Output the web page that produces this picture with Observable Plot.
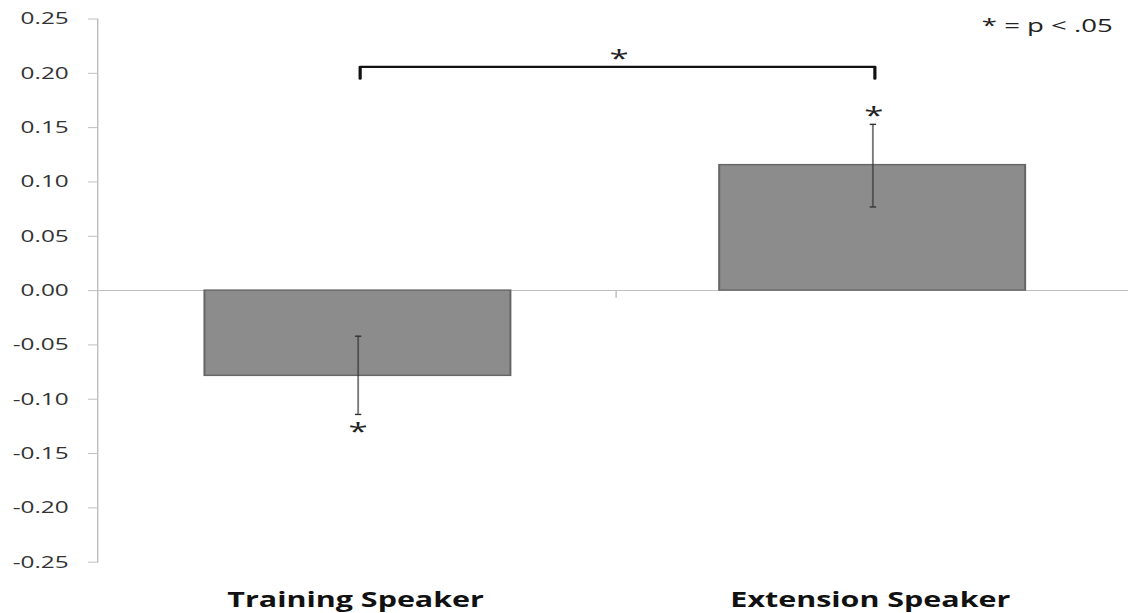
<!DOCTYPE html>
<html><head><meta charset="utf-8">
<script src="https://cdn.jsdelivr.net/npm/d3@7"></script>
<script src="https://cdn.jsdelivr.net/npm/@observablehq/plot@0.6"></script>
<style>
body{margin:0;background:#fff;overflow:hidden}
#chart{width:1128px;height:613px;overflow:hidden}
#chart svg{transform:scaleX(1.45);transform-origin:0 0;display:block}
</style></head><body><div id="chart"></div>
<script>
const categories = ["Training Speaker", "Extension Speaker"];
const means = [-0.0785, 0.1155];
const errLow = [-0.114, 0.077];
const errHigh = [-0.042, 0.153];
const sigMarks = ["*", "*"];
const yTicks = [0.25, 0.20, 0.15, 0.10, 0.05, 0, -0.05, -0.10, -0.15, -0.20, -0.25];
const bracketTop = 0.206;
const bracketFoot = 0.195;
const bracketLabel = "*";
const legendText = "* = p < .05";

const S = 1.45;
const W = 1128 / S;
const mL = 97 / S;
const mR = -3.6 / S;
const pIn = 0.405, pOut = 0.205;
const step = (W - mL - mR) / (2 - pIn + 2 * pOut);
const capHalf = 3.2 / S;

const capSymbol = {
  draw(context) {
    context.moveTo(-capHalf, 0);
    context.lineTo(capHalf, 0);
  }
};

const data = categories.map((c, i) => ({category: c, mean: means[i], lo: errLow[i], hi: errHigh[i], sig: sigMarks[i]}));
const bracket = [
  {x: categories[0], y: bracketFoot},
  {x: categories[0], y: bracketTop},
  {x: categories[1], y: bracketTop},
  {x: categories[1], y: bracketFoot}
];

const plot = Plot.plot({
  width: W,
  height: 613,
  marginTop: 18.5,
  marginBottom: 51.3,
  marginLeft: mL,
  marginRight: mR,
  style: {fontFamily: "'Open Sans', sans-serif", background: "white", overflow: "visible"},
  x: {domain: categories, paddingInner: pIn, paddingOuter: pOut, axis: null},
  y: {domain: [-0.25, 0.25], axis: null},
  marks: [
    Plot.ruleY([0], {stroke: "#bfbfbf", strokeWidth: 1}),
    Plot.ruleX([categories[0]], {x: d => d, y1: 0, y2: -0.007, dx: step / 2, stroke: "#bfbfbf"}),
    Plot.frame({anchor: "left", stroke: "#bfbfbf"}),
    Plot.axisY({ticks: yTicks, tickFormat: d => d.toFixed(2), tickSize: 9 / S, tickPadding: 13.8, fontSize: 16.8, stroke: "#bfbfbf", fill: "#333"}),
    Plot.barY(data, {x: "category", y: "mean", fill: "#8c8c8c", stroke: "#666", strokeWidth: 1.4}),
    Plot.ruleX(data, {x: "category", y1: "lo", y2: "hi", stroke: "#333", strokeOpacity: 0.65, strokeWidth: 1.3}),
    Plot.dot(data, {x: "category", y: "lo", symbol: capSymbol, r: 1, stroke: "#333", strokeWidth: 1.4, fill: "none"}),
    Plot.dot(data, {x: "category", y: "hi", symbol: capSymbol, r: 1, stroke: "#333", strokeWidth: 1.4, fill: "none"}),
    Plot.text(data.filter(d => d.mean < 0), {x: "category", y: "lo", text: "sig", dy: 18, fontSize: 24, fill: "#222"}),
    Plot.text(data.filter(d => d.mean >= 0), {x: "category", y: "hi", text: "sig", dy: -8, fontSize: 24, fill: "#222", dx: 1 / S}),
    Plot.line(bracket, {x: "x", y: "y", stroke: "#111", strokeWidth: 2.2, strokeLinejoin: "round", dx: 2 / S}),
    Plot.text([bracketLabel], {x: () => categories[0], y: () => bracketTop, text: d => d, dx: step / 2 + 3 / S, dy: -7.3, fontSize: 24, fill: "#222"}),
    Plot.text([legendText], {frameAnchor: "top-right", text: d => d, dx: -19.6 / S, dy: 0, fontSize: 19, fill: "#222"}),
    Plot.text(data, {x: "category", y: () => -0.25, text: "category", dy: 38, dx: -2.5 / S, fontSize: 21, fontWeight: "bold", fill: "#111"})
  ]
});
document.getElementById("chart").appendChild(plot);
</script></body></html>
